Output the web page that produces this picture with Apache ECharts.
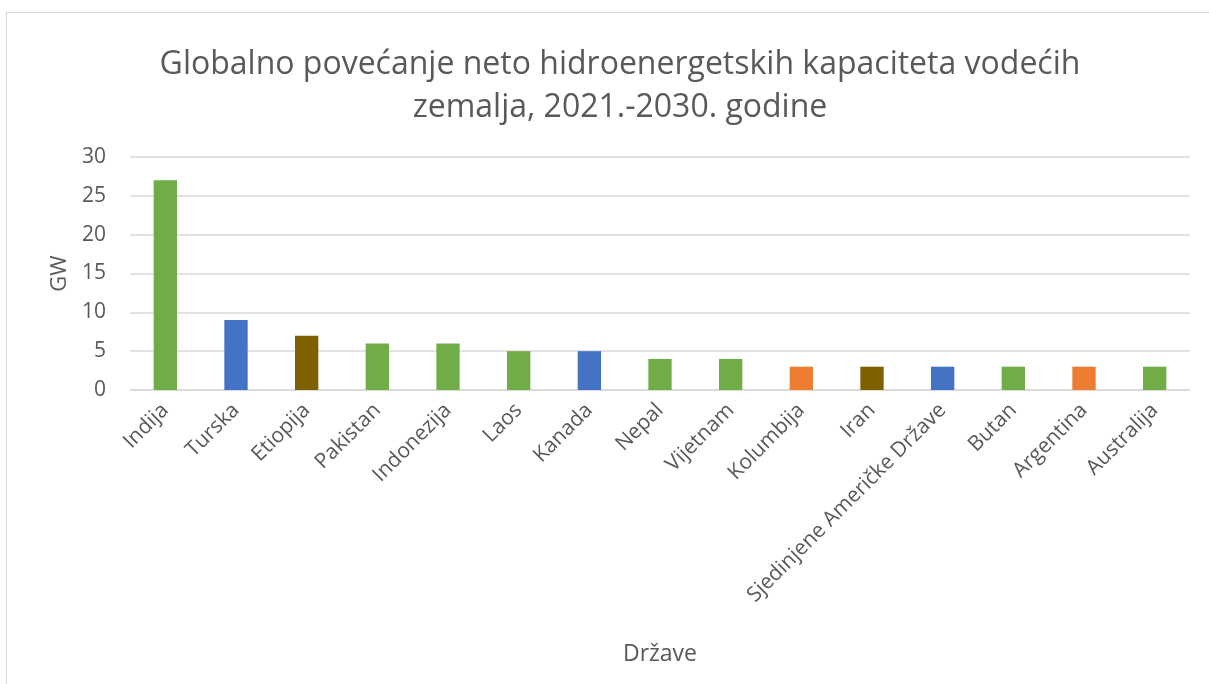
<!DOCTYPE html>
<html>
<head>
<meta charset="utf-8">
<script src="https://cdn.jsdelivr.net/npm/echarts@6/dist/echarts.min.js"></script>
<style>
html, body { margin: 0; padding: 0; background: #fff; }
#frame {
  position: absolute; left: 6px; top: 12px; width: 1220px; height: 700px;
  border: 1px solid #d9d9d9; box-sizing: border-box;
}
#chart { position: absolute; left: 0; top: 0; width: 1209px; height: 684px; }
</style>
</head>
<body>
<div id="frame"></div>
<div id="chart"></div>
<script>
// podaci
const categories = ['Indija', 'Turska', 'Etiopija', 'Pakistan', 'Indonezija', 'Laos', 'Kanada', 'Nepal',
  'Vijetnam', 'Kolumbija', 'Iran', 'Sjedinjene Američke Države', 'Butan', 'Argentina', 'Australija']
const values = [27, 9, 7, 6, 6, 5, 5, 4, 4, 3, 3, 3, 3, 3, 3]
const barColors = ['#70AD47', '#4472C4', '#7F6000', '#70AD47', '#70AD47', '#70AD47', '#4472C4', '#70AD47',
  '#70AD47', '#ED7D31', '#7F6000', '#4472C4', '#70AD47', '#ED7D31', '#70AD47']
const yTicks = [0, 5, 10, 15, 20, 25, 30]

const chart = echarts.init(document.getElementById('chart'))
const font = '"Open Sans", sans-serif'

const option = {
  backgroundColor: 'transparent',
  animation: false,
  title: {
    text: 'Globalno povećanje neto hidroenergetskih kapaciteta vodećih\nzemalja, 2021.-2030. godine',
    left: 615,
    top: 38,
    textAlign: 'center',
    textStyle: {
      color: '#595959',
      fontFamily: font,
      fontWeight: 'normal',
      fontSize: 32,
      lineHeight: 43
    }
  },
  grid: {
    left: 130,
    right: 19,
    top: 157,
    height: 233,
    containLabel: false
  },
  xAxis: {
    type: 'category',
    data: categories,
    name: 'Države',
    nameLocation: 'middle',
    nameGap: 253,
    nameTextStyle: { color: '#595959', fontFamily: font, fontSize: 23 },
    axisLine: { lineStyle: { color: '#d9d9d9', width: 1.5 } },
    axisTick: { show: false },
    axisLabel: {
      interval: 0,
      rotate: 45,
      color: '#595959',
      fontFamily: font,
      fontSize: 21,
      margin: 17
    }
  },
  yAxis: {
    type: 'value',
    min: yTicks[0],
    max: yTicks[yTicks.length - 1],
    interval: 5,
    name: 'GW',
    nameLocation: 'middle',
    nameGap: 58,
    nameRotate: 90,
    nameTextStyle: { color: '#595959', fontFamily: font, fontSize: 22 },
    axisLine: { show: false },
    axisTick: { show: false },
    splitLine: { lineStyle: { color: '#d9d9d9', width: 1.5 } },
    axisLabel: {
      color: '#595959',
      fontFamily: font,
      fontSize: 21,
      margin: 24
    }
  },
  series: [{
    type: 'bar',
    barWidth: '33%',
    data: values.map((v, i) => ({ value: v, itemStyle: { color: barColors[i] } }))
  }]
}
chart.setOption(option)
</script>
</body>
</html>
